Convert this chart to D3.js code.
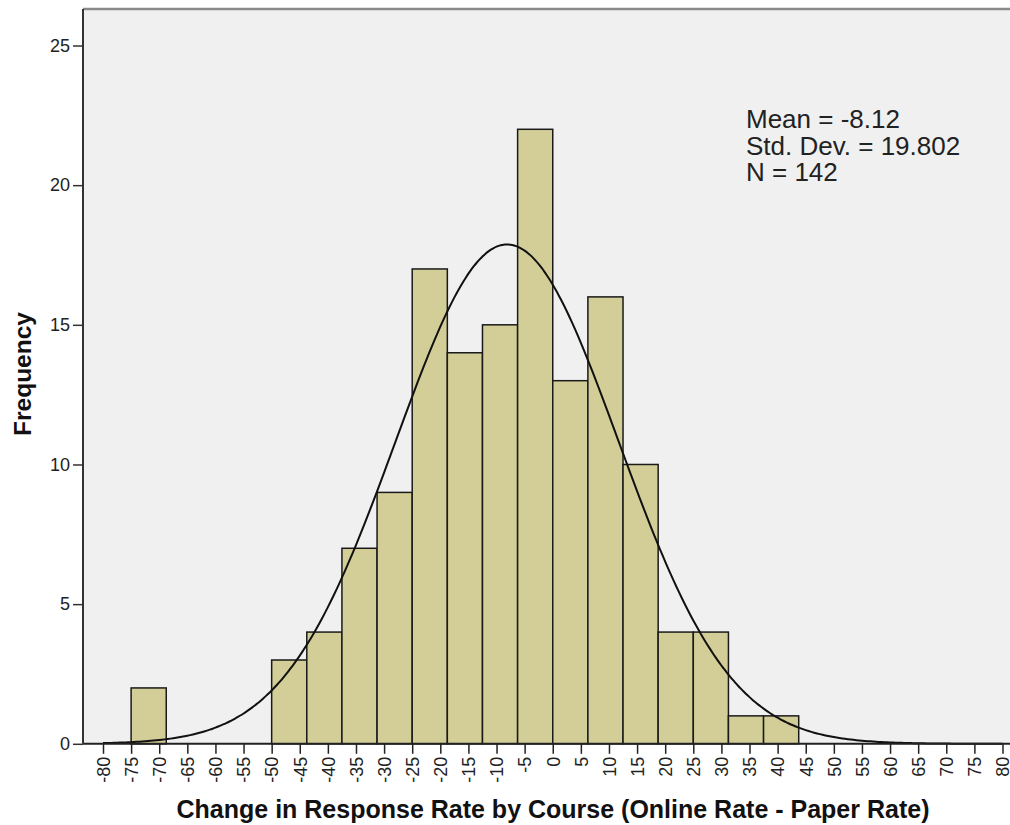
<!DOCTYPE html>
<html>
<head>
<meta charset="utf-8">
<script src="https://cdn.jsdelivr.net/npm/d3@7"></script>
<style>
  body { margin: 0; background: #fff; }
  text { font-family: Arial, "Liberation Sans", sans-serif; }
</style>
</head>
<body>
<script>
"use strict";

// Width and height
let w = 1010;
let h = 825;

// Histogram data (bin width 6.25, first bin starts at -75)
let binStarts = [-75, -68.75, -62.5, -56.25, -50, -43.75, -37.5, -31.25, -25, -18.75,
                 -12.5, -6.25, 0, 6.25, 12.5, 18.75, 25, 31.25, 37.5];
let binCounts = [2, 0, 0, 0, 3, 4, 7, 9, 17, 14, 15, 22, 13, 16, 10, 4, 4, 1, 1];
let binWidth = 6.25;

let xTicks = d3.range(-80, 81, 5);
let yTicks = [0, 5, 10, 15, 20, 25];

let statsLines = ["Mean = -8.12", "Std. Dev. = 19.802", "N = 142"];
let mean = -8.12, sd = 19.802, n = 142;

let svg = d3.select("body")
    .append("svg")
    .attr("width", w)
    .attr("height", h);

let x = d3.scaleLinear().domain([-80, 80]).range([103, 1002.5]);
let y = d3.scaleLinear().domain([0, 25]).range([743.8, 45.5]);

// plot background
svg.append("rect")
    .attr("x", 83).attr("y", 9)
    .attr("width", w - 83 + 10).attr("height", 743.8 - 9)
    .attr("fill", "#f0f0f0");

svg.append("line")
    .attr("x1", 83).attr("x2", w + 5)
    .attr("y1", 9).attr("y2", 9)
    .attr("stroke", "#8a8a8a").attr("stroke-width", 2.5);

// bars
svg.append("g")
    .selectAll("rect")
    .data(binStarts.map((s, i) => ({start: s, count: binCounts[i]})).filter(d => d.count > 0))
    .enter().append("rect")
    .attr("x", d => x(d.start))
    .attr("y", d => y(d.count))
    .attr("width", d => x(d.start + binWidth) - x(d.start))
    .attr("height", d => y(0) - y(d.count))
    .attr("fill", "#d3ce97")
    .attr("stroke", "#1a1a1a")
    .attr("stroke-width", 1.5);

// normal curve from the stated mean / std. dev.
let curve = d3.range(-80, 80.01, 0.5).map(v => {
    let z = (v - mean) / sd;
    return [v, n * binWidth * Math.exp(-0.5 * z * z) / (sd * Math.sqrt(2 * Math.PI))];
});
svg.append("path")
    .datum(curve)
    .attr("fill", "none")
    .attr("stroke", "#111")
    .attr("stroke-width", 2)
    .attr("d", d3.line().x(d => x(d[0])).y(d => y(d[1])).curve(d3.curveBasis));

// axes
let xAxis = svg.append("g")
    .attr("transform", `translate(0,${y(0)})`)
    .call(d3.axisBottom(x).tickValues(xTicks).tickSize(10).tickSizeOuter(0).tickFormat(d3.format("d")));
xAxis.select(".domain").attr("d", `M83,0H${w + 5}`).attr("stroke", "#222").attr("stroke-width", 2);
xAxis.selectAll(".tick line").attr("stroke", "#222").attr("stroke-width", 1.5);
xAxis.selectAll(".tick text")
    .attr("transform", "rotate(-90)")
    .attr("text-anchor", "end")
    .attr("x", -13).attr("y", 0).attr("dy", "0.35em")
    .attr("font-size", 18).attr("fill", "#222")
    .text(d => d3.format("d")(d).replace("−", "-"));

let yAxis = svg.append("g")
    .attr("transform", "translate(83,0)")
    .call(d3.axisLeft(y).tickValues(yTicks).tickSize(10).tickPadding(3).tickSizeOuter(0));
yAxis.select(".domain").attr("d", `M0,9V${y(0)}`).attr("stroke", "#333").attr("stroke-width", 2);
yAxis.selectAll(".tick line").attr("stroke", "#333").attr("stroke-width", 1.5);
yAxis.selectAll(".tick text").attr("font-size", 18).attr("fill", "#222");

// axis titles
svg.append("text")
    .attr("x", 553).attr("y", 818)
    .attr("text-anchor", "middle")
    .attr("font-size", 25).attr("font-weight", "bold").attr("fill", "#111")
    .text("Change in Response Rate by Course (Online Rate - Paper Rate)");

svg.append("text")
    .attr("transform", "translate(31,374) rotate(-90)")
    .attr("text-anchor", "middle")
    .attr("font-size", 24.5).attr("font-weight", "bold").attr("fill", "#111")
    .text("Frequency");

// stats box
svg.append("g")
    .selectAll("text")
    .data(statsLines)
    .enter().append("text")
    .attr("x", 746)
    .attr("y", (d, i) => 128 + i * 26.7)
    .attr("font-size", 26)
    .attr("fill", "#222")
    .text(d => d);
</script>
</body>
</html>
